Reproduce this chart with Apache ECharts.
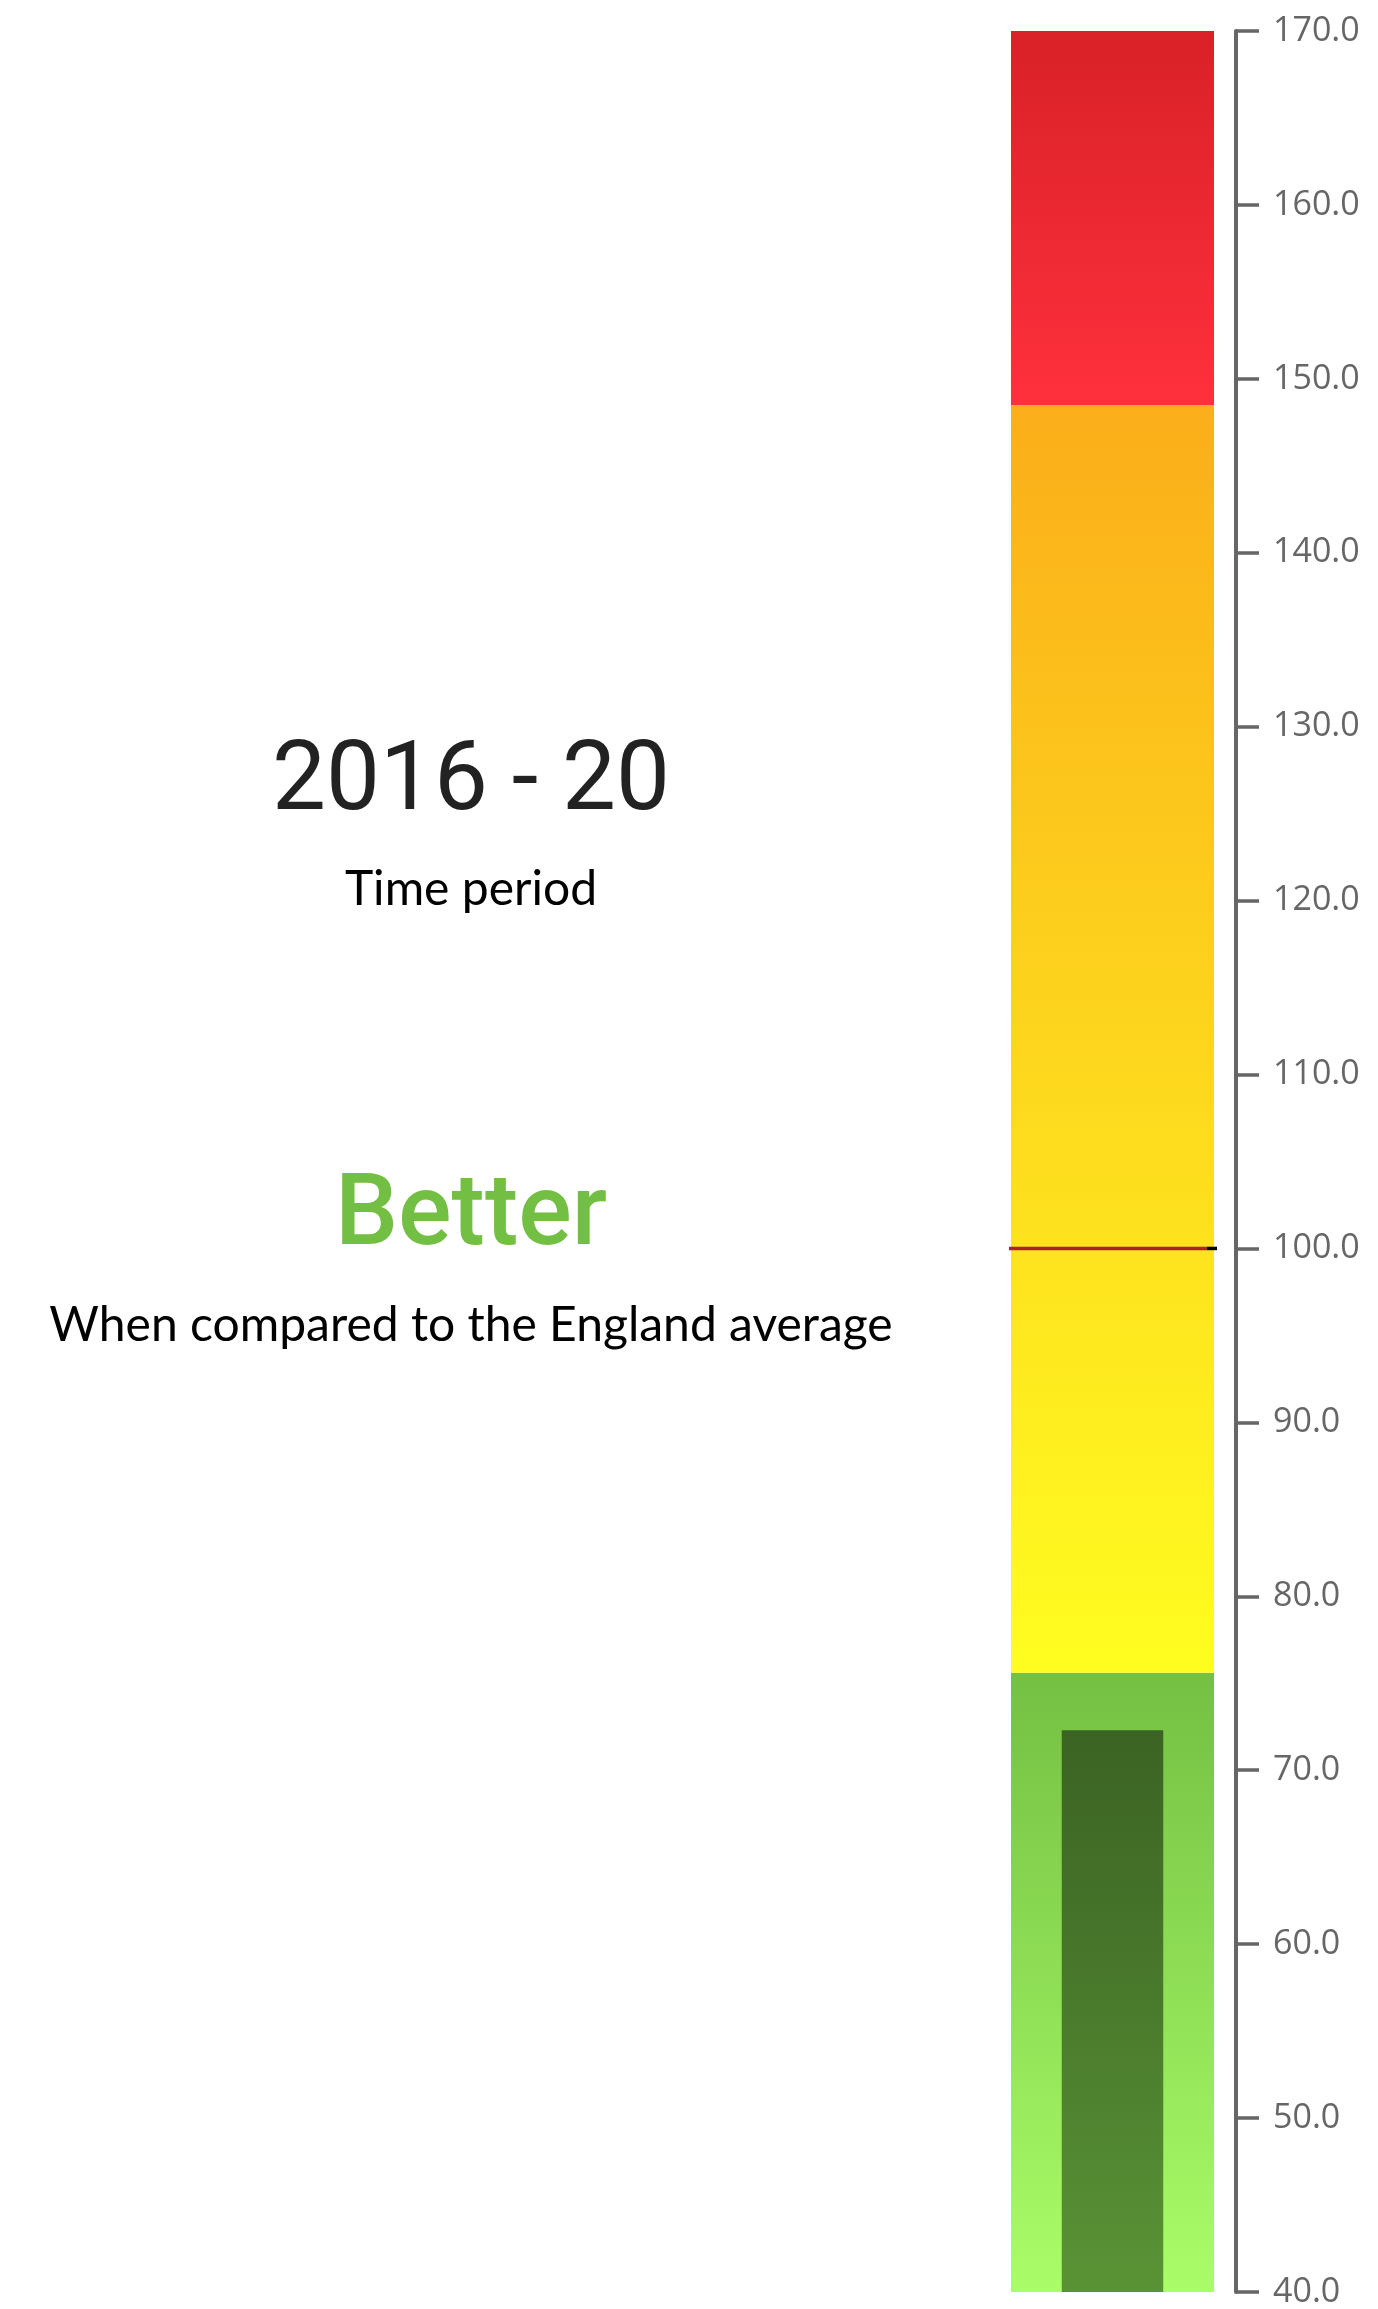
<!DOCTYPE html>
<html>
<head>
<meta charset="utf-8">
<script src="https://cdn.jsdelivr.net/npm/echarts@6.0.0/dist/echarts.min.js"></script>
<style>
  html, body { margin: 0; padding: 0; background: #fff; }
  #chart { width: 1378px; height: 2309px; }
</style>
</head>
<body>
<div id="chart"></div>
<script>
// values
const axisMin = 40;
const axisMax = 170;
const axisStep = 10;
const bandTops = [75.6, 148.5, 170];      // better / similar / worse bands
const areaValue = [72.3];
const englandValue = 100;
const periodLabel = '2016 - 20';
const verdict = 'Better';

const bandColors = [
  ['#74c043', '#aafd68'],
  ['#fbae1a', '#fffd20'],
  ['#d92128', '#fe303c']
];

const grad = (top, bottom) => new echarts.graphic.LinearGradient(0, 0, 0, 1, [
  { offset: 0, color: top },
  { offset: 1, color: bottom }
]);

// stacked pieces: transparent base up to axisMin, then each band
const bandSeries = bandTops.map((top, i) => ({
  type: 'bar',
  stack: 'bands',
  xAxisIndex: 0,
  barWidth: '100%',
  silent: true,
  data: [top - (i === 0 ? axisMin : bandTops[i - 1])],
  itemStyle: { color: grad(bandColors[i][0], bandColors[i][1]) }
}));

const chart = echarts.init(document.getElementById('chart'));

const option = {
  animation: false,
  grid: { left: 1011, width: 203, top: 31, bottom: 13 },
  xAxis: [
    { type: 'category', data: ['band'], show: false },
    { type: 'category', data: ['value'], show: false },
    { type: 'value', min: 0, max: 1, show: false }
  ],
  yAxis: {
    type: 'value',
    position: 'right',
    offset: 22,
    min: axisMin,
    max: axisMax,
    interval: axisStep,
    axisLine: { show: true, onZero: false, lineStyle: { color: '#666', width: 4 } },
    axisTick: { show: true, length: 23, lineStyle: { color: '#666', width: 3.5 } },
    axisLabel: {
      color: '#666',
      fontSize: 34,
      fontFamily: 'Open Sans',
      margin: 37,
      formatter: v => v.toFixed(1)
    },
    splitLine: { show: false }
  },
  graphic: [
    {
      type: 'text',
      style: { x: 471, y: 785, text: periodLabel, fontFamily: 'Roboto', fontSize: 96,
        fill: '#222', align: 'center', verticalAlign: 'middle' }
    },
    {
      type: 'text',
      style: { x: 471, y: 890, text: 'Time period', fontFamily: 'Lato', fontSize: 48,
        fill: '#000', align: 'center', verticalAlign: 'middle' }
    },
    {
      type: 'text',
      style: { x: 471, y: 1219, text: verdict, fontFamily: 'Roboto', fontWeight: 500, fontSize: 100,
        fill: '#72bf44', align: 'center', verticalAlign: 'middle' }
    },
    {
      type: 'text',
      style: { x: 471, y: 1326, text: 'When compared to the England average', fontFamily: 'Lato',
        fontSize: 48, fill: '#000', align: 'center', verticalAlign: 'middle' }
    }
  ],
  series: [
    {
      type: 'bar', stack: 'bands', xAxisIndex: 0, barWidth: '100%', silent: true,
      data: [axisMin], itemStyle: { color: 'transparent' }
    },
    ...bandSeries,
    {
      type: 'bar', stack: 'area', xAxisIndex: 1, barWidth: '50%', silent: true,
      data: [axisMin], itemStyle: { color: 'transparent' }
    },
    {
      type: 'bar', stack: 'area', xAxisIndex: 1, barWidth: '50%', silent: true,
      data: areaValue.map(v => v - axisMin),
      itemStyle: { color: grad('#3b6323', '#5a9336') }
    },
    {
      // England average marker, overhangs the bar a little on the left
      type: 'line', xAxisIndex: 2, clip: false, symbol: 'none', silent: true, z: 5,
      data: [[-0.03, englandValue], [0.966, englandValue]],
      lineStyle: { color: '#a52828', width: 3.5 }
    },
    {
      type: 'line', xAxisIndex: 2, clip: false, symbol: 'none', silent: true, z: 5,
      data: [[0.966, englandValue], [1.1, englandValue]],
      lineStyle: { color: '#000', width: 3.5 }
    }
  ]
};

chart.setOption(option);
</script>
</body>
</html>
